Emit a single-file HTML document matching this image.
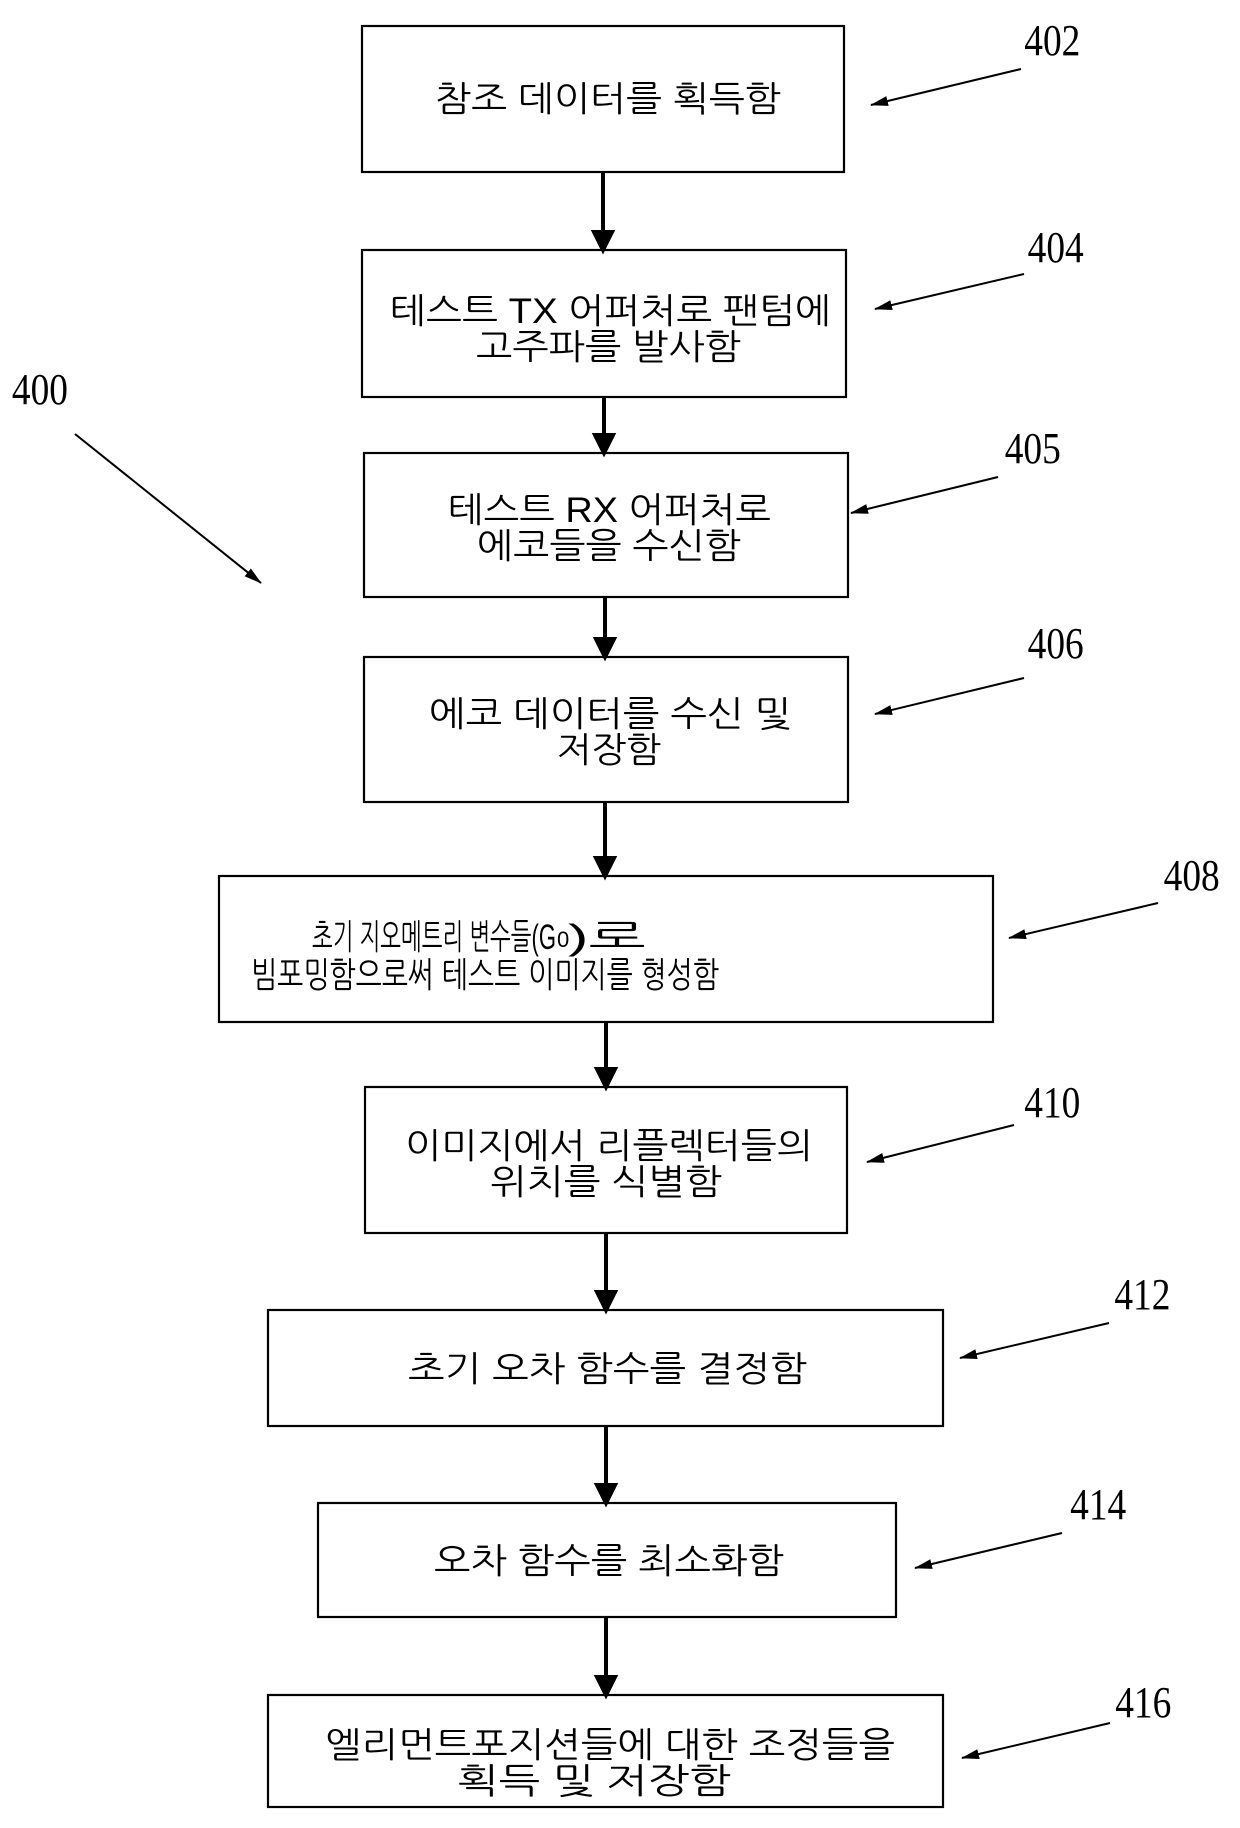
<!DOCTYPE html>
<html><head><meta charset="utf-8"><style>html,body{margin:0;padding:0;background:#fff}svg{display:block}</style></head>
<body>
<svg width="1240" height="1828" viewBox="0 0 1240 1828" xmlns="http://www.w3.org/2000/svg">
<defs>
<marker id="ah2" markerWidth="18" markerHeight="10" refX="17" refY="5" orient="auto" markerUnits="userSpaceOnUse"><path d="M0,0 L18,5 L0,10 Z" fill="#000"/></marker>
</defs>
<g fill="none" stroke="#000" stroke-width="2.2">
<rect x="362" y="26" width="482" height="146"/>
<rect x="362" y="250" width="484" height="147"/>
<rect x="364" y="453" width="484" height="144"/>
<rect x="364" y="657" width="484" height="145"/>
<rect x="219" y="876" width="774" height="146"/>
<rect x="365" y="1087" width="482" height="146"/>
<rect x="268" y="1310" width="675" height="116"/>
<rect x="318" y="1503" width="578" height="114"/>
<rect x="268" y="1695" width="675" height="112"/>
</g>
<g stroke="#000" stroke-width="4" fill="#000">
<line x1="603" y1="172" x2="603" y2="234"/><path d="M594,232 L612,232 L603,250 Z"/>
<line x1="604" y1="397" x2="604" y2="437"/><path d="M595,435 L613,435 L604,453 Z"/>
<line x1="605" y1="597" x2="605" y2="641"/><path d="M596,639 L614,639 L605,657 Z"/>
<line x1="605" y1="802" x2="605" y2="860"/><path d="M596,858 L614,858 L605,876 Z"/>
<line x1="606" y1="1022" x2="606" y2="1071"/><path d="M597,1069 L615,1069 L606,1087 Z"/>
<line x1="606" y1="1233" x2="606" y2="1294"/><path d="M597,1292 L615,1292 L606,1310 Z"/>
<line x1="606" y1="1426" x2="606" y2="1487"/><path d="M597,1485 L615,1485 L606,1503 Z"/>
<line x1="606" y1="1617" x2="606" y2="1679"/><path d="M597,1677 L615,1677 L606,1695 Z"/>
</g>
<g stroke="#000" stroke-width="2" marker-end="url(#ah2)">
<line x1="1021" y1="69" x2="871" y2="105"/>
<line x1="1024" y1="274" x2="875" y2="309"/>
<line x1="998" y1="477" x2="851" y2="513"/>
<line x1="1024" y1="678" x2="875" y2="714"/>
<line x1="1158" y1="903" x2="1009" y2="938"/>
<line x1="1014" y1="1125" x2="867" y2="1162"/>
<line x1="1109" y1="1323" x2="960" y2="1358"/>
<line x1="1062" y1="1533" x2="915" y2="1568"/>
<line x1="1110" y1="1723" x2="962" y2="1758"/>
<line x1="75" y1="434" x2="261" y2="583"/>
</g>
<g font-family="Liberation Serif, serif" font-size="44" fill="#000" transform="scale(0.85,1)">
<text x="1205" y="55">402</text>
<text x="1209" y="262">404</text>
<text x="1182" y="463">405</text>
<text x="1209" y="658">406</text>
<text x="1369" y="890">408</text>
<text x="1205" y="1117">410</text>
<text x="1311" y="1309">412</text>
<text x="1259" y="1519">414</text>
<text x="1312" y="1717">416</text>
<text x="14" y="404">400</text>
</g>
<g font-family="Liberation Sans, NanumGothic, 'Noto Sans CJK KR', sans-serif" font-size="35" fill="#000">
<text x="435" y="111" textLength="346" lengthAdjust="spacingAndGlyphs">참조 데이터를 획득함</text>
<text x="390" y="323" textLength="441" lengthAdjust="spacingAndGlyphs">테스트 TX 어퍼처로 팬텀에</text>
<text x="476" y="359" textLength="265" lengthAdjust="spacingAndGlyphs">고주파를 발사함</text>
<text x="448" y="522" textLength="323" lengthAdjust="spacingAndGlyphs">테스트 RX 어퍼처로</text>
<text x="477" y="558" textLength="264" lengthAdjust="spacingAndGlyphs">에코들을 수신함</text>
<text x="429" y="726" textLength="362" lengthAdjust="spacingAndGlyphs">에코 데이터를 수신 및</text>
<text x="557" y="762" textLength="104" lengthAdjust="spacingAndGlyphs">저장함</text>
<text x="312" y="949" textLength="244" lengthAdjust="spacingAndGlyphs">초기 지오메트리 변수들(G</text>
<text x="557" y="947" font-size="22">0</text>
<text x="568" y="949" textLength="78" lengthAdjust="spacingAndGlyphs">)로</text>
<text x="251" y="987" textLength="468" lengthAdjust="spacingAndGlyphs">빔포밍함으로써 테스트 이미지를 형성함</text>
<text x="405" y="1158" textLength="408" lengthAdjust="spacingAndGlyphs">이미지에서 리플렉터들의</text>
<text x="490" y="1194" textLength="232" lengthAdjust="spacingAndGlyphs">위치를 식별함</text>
<text x="408" y="1381" textLength="399" lengthAdjust="spacingAndGlyphs">초기 오차 함수를 결정함</text>
<text x="434" y="1573" textLength="350" lengthAdjust="spacingAndGlyphs">오차 함수를 최소화함</text>
<text x="325" y="1757" textLength="570" lengthAdjust="spacingAndGlyphs">엘리먼트포지션들에 대한 조정들을</text>
<text x="457" y="1793" textLength="274" lengthAdjust="spacingAndGlyphs">획득 및 저장함</text>
</g>
</svg>
</body></html>
